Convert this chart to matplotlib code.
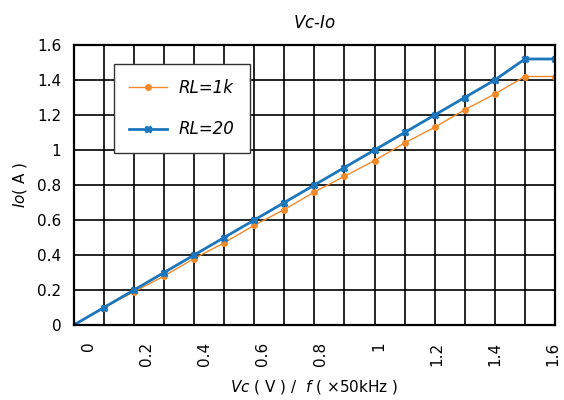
# -*- coding: utf-8 -*-
"""Vc-Io curve for two load resistors."""

import numpy as np
import matplotlib.pyplot as plt

plt.rcParams['font.family'] = ['DejaVu Sans']
plt.rcParams['mathtext.fontset'] = 'custom'
plt.rcParams['mathtext.it'] = 'DejaVu Sans:italic'
plt.rcParams['mathtext.rm'] = 'DejaVu Sans'

# data
vc = [0, 0.1, 0.2, 0.3, 0.4, 0.5, 0.6, 0.7, 0.8, 0.9, 1.0, 1.1, 1.2, 1.3, 1.4, 1.5, 1.6]
io_1k = [0, 0.10, 0.19, 0.28, 0.38, 0.47, 0.57, 0.66, 0.76, 0.85, 0.94, 1.04, 1.13, 1.23, 1.32, 1.42, 1.42]
io_20 = [0, 0.10, 0.20, 0.30, 0.40, 0.50, 0.60, 0.70, 0.80, 0.90, 1.00, 1.10, 1.20, 1.30, 1.40, 1.52, 1.52]
x_labels = ['0', '0.2', '0.4', '0.6', '0.8', '1', '1.2', '1.4', '1.6']
y_labels = ['0', '0.2', '0.4', '0.6', '0.8', '1', '1.2', '1.4', '1.6']

fig = plt.figure(figsize=(5.64, 4.0), dpi=100)
ax = fig.add_axes([0.131, 0.1875, 0.853, 0.70])

ax.plot(vc, io_1k, color='#F0892A', lw=1.0, marker='o', ms=4, label='RL=1k')
ax.plot(vc, io_20, color='#1B76BC', lw=2.0, marker='X', ms=5, label='RL=20')

ax.set_xlim(0, 1.6)
ax.set_ylim(0, 1.6)

# grid every 0.1 on x, 0.2 on y
ax.set_xticks(np.arange(0, 1.61, 0.1), minor=True)
ax.set_yticks(np.arange(0, 1.61, 0.2))
ax.set_yticklabels(y_labels)
ax.grid(which='minor', axis='x', color='black', lw=1.2)
ax.grid(which='major', axis='y', color='black', lw=1.2)
ax.set_axisbelow(True)

# the x labels sit a bit off the grid lines, like the original
label_pos = np.linspace(0.047, 1.593, len(x_labels))
ax.set_xticks(label_pos)
ax.set_xticklabels(x_labels, rotation=90, va='top', ha='center')
ax.tick_params(axis='x', which='both', length=0, pad=12, labelsize=11)
ax.tick_params(axis='y', length=0, pad=9, labelsize=11)

for s in ax.spines.values():
    s.set_color('black')
    s.set_linewidth(1.6)

ax.set_title(r'$\mathit{Vc}$-$\mathit{Io}$', fontsize=12, pad=12)
ax.set_xlabel(r'$\mathit{Vc}$ ( V ) /  $\mathit{f}$ ( $\times$50kHz )', fontsize=11, labelpad=9)
ax.set_ylabel(r'$\mathit{Io}$( A )', fontsize=11, labelpad=6)

leg = ax.legend(loc='upper left', bbox_to_anchor=(0.083, 0.932), borderaxespad=0,
                fancybox=False, framealpha=1, edgecolor='#333333',
                prop={'style': 'italic', 'size': 12}, handlelength=2.3,
                handletextpad=0.7, labelspacing=1.4, borderpad=0.9)
leg.get_frame().set_linewidth(1.0)

fig.savefig('out.png', dpi=100)
